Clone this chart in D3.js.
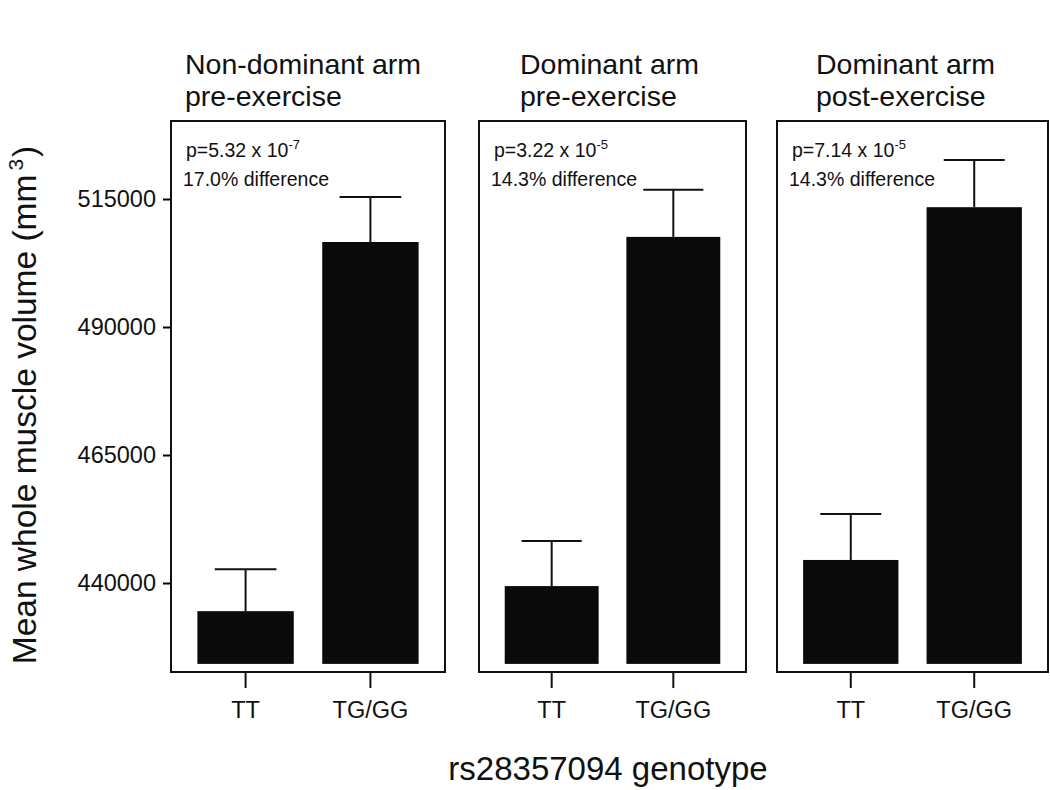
<!DOCTYPE html>
<html>
<head>
<meta charset="utf-8">
<script src="https://cdn.jsdelivr.net/npm/d3@7"></script>
<style>
  html, body { margin: 0; padding: 0; background: #fff; }
  svg { display: block; font-family: "Liberation Sans", Arial, Helvetica, sans-serif; }
</style>
</head>
<body>
<svg id="chart" width="1050" height="790"></svg>
<script>
// ---------- data ----------
const panelTitleLine1 = ["Non-dominant arm", "Dominant arm", "Dominant arm"];
const panelTitleLine2 = ["pre-exercise", "pre-exercise", "post-exercise"];
const genotypes = ["TT", "TG/GG"];
const meanTT   = [434500, 439400, 444500];
const meanTGGG = [506600, 507600, 513400];
const seTT     = [8200, 8800, 9000];
const seTGGG   = [8800, 9200, 9200];
const pMantissa = ["5.32", "3.22", "7.14"];
const pExponent = ["-7", "-5", "-5"];
const pctDiff   = ["17.0%", "14.3%", "14.3%"];
const yTicks = [440000, 465000, 490000, 515000];
const yBase = 424200;
const yLabel = "Mean whole muscle volume (mm";
const xLabel = "rs28357094 genotype";

// ---------- layout ----------
const svg = d3.select("#chart");
const panelLeft  = [171, 479, 777];
const panelRight = [445, 746, 1048];
const titleOffset = [14, 41, 39];
const boxTop = 121, boxBottom = 672;

const y = d3.scaleLinear().domain([440000, 515000]).range([583, 199]);

// y axis
const yAxis = d3.axisLeft(y).tickValues(yTicks).tickSize(8).tickPadding(7)
  .tickFormat(d3.format("d"));
const yg = svg.append("g").attr("transform", `translate(${panelLeft[0]},0)`).call(yAxis);
yg.select(".domain").remove();
yg.selectAll(".tick line").attr("stroke", "#000").attr("stroke-width", 2);
yg.selectAll(".tick text").attr("fill", "#111").style("font-size", "23.5px")
  .style("font-family", "'Liberation Sans', Arial, sans-serif");

panelLeft.forEach((left, i) => {
  const right = panelRight[i];
  const g = svg.append("g");
  const x = d3.scaleBand().domain(genotypes).range([left, right])
    .paddingInner(0.228).paddingOuter(0.2115);
  const means = [meanTT[i], meanTGGG[i]];
  const ses = [seTT[i], seTGGG[i]];
  const rows = genotypes.map((gname, k) => ({ g: gname, m: means[k], se: ses[k] }));

  // box
  g.append("rect").attr("x", left).attr("y", boxTop)
    .attr("width", right - left).attr("height", boxBottom - boxTop)
    .attr("fill", "none").attr("stroke", "#111").attr("stroke-width", 2);

  // bars
  g.selectAll("rect.bar").data(rows).enter().append("rect").attr("class", "bar")
    .attr("x", d => x(d.g)).attr("width", x.bandwidth())
    .attr("y", d => y(d.m)).attr("height", d => y(yBase) - y(d.m))
    .attr("fill", "#0a0a0a");

  // error bars (upper only)
  const capW = x.bandwidth() * 0.64;
  g.selectAll("line.err").data(rows).enter().append("line").attr("class", "err")
    .attr("x1", d => x(d.g) + x.bandwidth() / 2).attr("x2", d => x(d.g) + x.bandwidth() / 2)
    .attr("y1", d => y(d.m)).attr("y2", d => y(d.m + d.se))
    .attr("stroke", "#111").attr("stroke-width", 2);
  g.selectAll("line.cap").data(rows).enter().append("line").attr("class", "cap")
    .attr("x1", d => x(d.g) + x.bandwidth() / 2 - capW / 2)
    .attr("x2", d => x(d.g) + x.bandwidth() / 2 + capW / 2)
    .attr("y1", d => y(d.m + d.se)).attr("y2", d => y(d.m + d.se))
    .attr("stroke", "#111").attr("stroke-width", 2);

  // x axis
  const xAxis = d3.axisBottom(x).tickSize(16).tickPadding(13);
  const xg = g.append("g").attr("transform", `translate(0,${boxBottom})`).call(xAxis);
  xg.select(".domain").remove();
  xg.selectAll(".tick line").attr("stroke", "#111").attr("stroke-width", 2);
  xg.selectAll(".tick text").attr("fill", "#111").style("font-size", "23.5px")
    .style("font-family", "'Liberation Sans', Arial, sans-serif");

  // titles
  g.append("text").attr("x", left + titleOffset[i]).attr("y", 74)
    .style("font-size", "28.5px").attr("fill", "#111").text(panelTitleLine1[i]);
  g.append("text").attr("x", left + titleOffset[i]).attr("y", 106)
    .style("font-size", "28.5px").attr("fill", "#111").text(panelTitleLine2[i]);

  // annotations
  const pt = g.append("text").attr("x", left + 15).attr("y", 157)
    .style("font-size", "19.5px").attr("fill", "#111");
  pt.append("tspan").text(`p=${pMantissa[i]} x 10`);
  pt.append("tspan").attr("dy", -8).style("font-size", "13px").text(pExponent[i]);
  g.append("text").attr("x", left + 12).attr("y", 186)
    .style("font-size", "19.5px").attr("fill", "#111").text(`${pctDiff[i]} difference`);
});

// y label
const yl = svg.append("text").attr("transform", "translate(36,405) rotate(-90)")
  .attr("text-anchor", "middle").style("font-size", "33.5px").attr("fill", "#111");
yl.append("tspan").text(yLabel);
yl.append("tspan").attr("dy", -13).attr("dx", 4).style("font-size", "21px").text("3");
yl.append("tspan").attr("dy", 13).attr("dx", 2).text(")");

// x label
svg.append("text").attr("x", 608).attr("y", 780).attr("text-anchor", "middle")
  .style("font-size", "33px").attr("fill", "#111").text(xLabel);
</script>
</body>
</html>
